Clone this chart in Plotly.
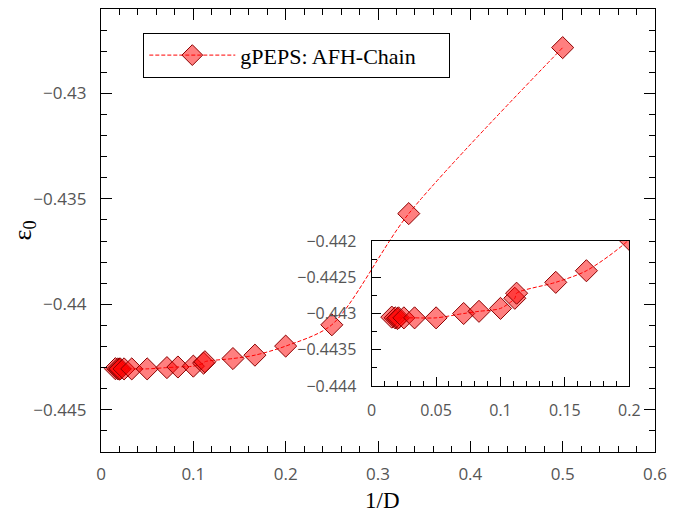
import plotly.graph_objects as go

# 1/D values and ground-state energy per site
inv_D = [0.0156, 0.0182, 0.0200, 0.0208, 0.0250, 0.0333, 0.0500, 0.0714, 0.0833,
         0.1000, 0.1111, 0.1125, 0.1429, 0.1667, 0.2000, 0.2500, 0.3333, 0.5000]
energy = [-0.44305, -0.44306, -0.44307, -0.44306, -0.44306, -0.44306, -0.44306,
          -0.44300, -0.44297, -0.44293, -0.44279, -0.44272, -0.44257, -0.44241,
          -0.44198, -0.44097, -0.43570, -0.42783]
series_name = "gPEPS: AFH-Chain"

main_x_ticks = [0, 0.1, 0.2, 0.3, 0.4, 0.5, 0.6]
main_y_ticks = [-0.445, -0.44, -0.435, -0.43]
inset_x_ticks = [0, 0.05, 0.1, 0.15, 0.2]
inset_y_ticks = [-0.444, -0.4435, -0.443, -0.4425, -0.442]

# page body has an 8px margin: build the figure in screen coordinates minus that offset
OFF = 8
W, H = 683 - OFF, 515 - OFF
# plot area in screen pixels
SL, SR, ST, SB = 101, 655, 9, 452
ML, MR, MT, MB = SL - OFF, W - (SR - OFF), ST - OFF, H - (SB - OFF)
PW, PH = W - ML - MR, H - MT - MB

def px2fx(px):
    return (px - OFF - ML) / PW

def py2fy(py):
    return (H - MB - (py - OFF)) / PH

marker = dict(symbol="diamond", size=17, color="rgba(255,0,0,0.5)",
              line=dict(color="#8b0000", width=1))
line = dict(color="red", width=1, dash="4px,2px", shape="spline", smoothing=0.8)

fig = go.Figure()
fig.add_trace(go.Scatter(x=inv_D, y=energy, mode="lines+markers",
                         name=series_name + "\u00a0" * 5,
                         marker=marker, line=line, xaxis="x", yaxis="y"))
fig.add_trace(go.Scatter(x=inv_D, y=energy, mode="lines+markers", showlegend=False,
                         marker=marker, line=line, xaxis="x2", yaxis="y2"))

main_font = dict(family="Open Sans", size=17, color="#555")
inset_font = dict(family="Open Sans", size=16, color="#555")
axis_common = dict(showline=True, linecolor="black", linewidth=1.3, showgrid=False,
                   zeroline=False, ticks="inside", tickcolor="black", tickwidth=1.3,
                   automargin=False)

fig.update_layout(
    width=W, height=H,
    margin=dict(l=ML, r=MR, t=MT, b=MB, pad=0),
    paper_bgcolor="white", plot_bgcolor="rgba(0,0,0,0)",
    showlegend=True,
    legend=dict(x=px2fx(143), y=py2fy(33), xanchor="left", yanchor="top",
                bordercolor="black", borderwidth=1.3, bgcolor="white",
                font=dict(family="Liberation Serif", size=22, color="black"),
                itemwidth=86),
    xaxis=dict(**axis_common, range=[0, 0.6], tickvals=main_x_ticks, mirror="allticks",
               ticklen=11, tickfont=main_font, ticklabelstandoff=6,
               minor=dict(ticks="inside", dtick=0.02, tick0=0, ticklen=6,
                          tickcolor="black", tickwidth=1.3),
               domain=[0, 1]),
    yaxis=dict(**axis_common, range=[-0.447, -0.426], tickvals=main_y_ticks, mirror="allticks",
               ticklen=11, tickfont=main_font, ticklabelstandoff=10,
               title=dict(text="ε<sub>0</sub>", standoff=18,
                          font=dict(family="Liberation Serif", size=26, color="black")),
               minor=dict(ticks="inside", dtick=0.001, tick0=0, ticklen=6,
                          tickcolor="black", tickwidth=1.3),
               domain=[0, 1]),
    xaxis2=dict(**axis_common, range=[0, 0.2], tickvals=inset_x_ticks, mirror=True,
                ticklen=9, anchor="y2", tickfont=inset_font, ticklabelstandoff=10,
                minor=dict(ticks="inside", dtick=0.01, tick0=0, ticklen=5,
                           tickcolor="black", tickwidth=1.3),
                domain=[px2fx(371.7), px2fx(629.3)]),
    yaxis2=dict(**axis_common, range=[-0.444, -0.442], tickvals=inset_y_ticks, mirror=True,
                ticklen=9, anchor="x2", tickfont=inset_font, ticklabelstandoff=11,
                minor=dict(ticks="inside", dtick=0.00025, tick0=0, ticklen=5,
                           tickcolor="black", tickwidth=1.3),
                domain=[py2fy(386), py2fy(241)]),
    annotations=[
        dict(text="1/D", xref="paper", yref="paper", x=px2fx(382), y=py2fy(501),
             xanchor="center", yanchor="middle", showarrow=False,
             font=dict(family="Liberation Serif", size=23, color="black")),
    ],
)

fig.write_html("out.html")
